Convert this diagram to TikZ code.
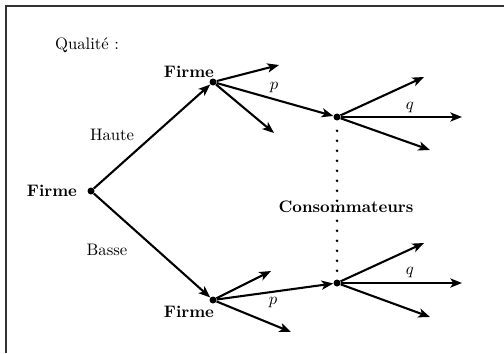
\documentclass[tikz,border=0pt]{standalone}
\usetikzlibrary{arrows.meta}
\begin{document}
\begin{tikzpicture}[x=0.6pt,y=-0.6pt,
  edge/.style={line width=1.25pt,-{Stealth[length=7pt,width=5.5pt,inset=1.8pt]}},
  pt/.style={circle,fill=black,inner sep=0pt,minimum size=4.2pt},
  lbl/.style={font=\bfseries},
  frame/.style={draw=black!80,line width=1.2pt}]
\useasboundingbox (0,0) rectangle (504,353);
\draw[frame] (5.5,353) -- (5.5,6.5) -- (504,6.5);
% nodes
\node[pt] (r) at (91,191) {};
\node[pt] (fh) at (213,82) {};
\node[pt] (fb) at (213,300) {};
\node[pt] (ch) at (337,117) {};
\node[pt] (cb) at (337,283) {};
\coordinate (fh1) at (279,65);
\coordinate (fh3) at (274,133);
\coordinate (fb1) at (271,271);
\coordinate (fb3) at (291,332);
\coordinate (ch1) at (424,77);
\coordinate (ch2) at (462,117);
\coordinate (ch3) at (430,150);
\coordinate (cb1) at (424,243);
\coordinate (cb2) at (462,283);
\coordinate (cb3) at (430,317);
% labels
\node (qual) at (87,45) {Qualit\'e :};
\node[lbl] (rl) at (52,191) {Firme};
\node[lbl] (fhl) at (189,72) {Firme};
\node[lbl] (fbl) at (189,312) {Firme};
\node (haute) at (112,135) {Haute};
\node (basse) at (107,250) {Basse};
\node (p1) at (274,88) {$p$};
\node (p2) at (273,303) {$p$};
\node (q1) at (410,108) {$q$};
\node (q2) at (410,273) {$q$};
% edges
\draw[edge] (r) -- (fh);
\draw[edge] (r) -- (fb);
\draw[edge] (fh) -- (fh1);
\draw[edge] (fh) -- (ch);
\draw[edge] (fh) -- (fh3);
\draw[edge] (fb) -- (fb1);
\draw[edge] (fb) -- (cb);
\draw[edge] (fb) -- (fb3);
\draw[edge] (ch) -- (ch1);
\draw[edge] (ch) -- (ch2);
\draw[edge] (ch) -- (ch3);
\draw[edge] (cb) -- (cb1);
\draw[edge] (cb) -- (cb2);
\draw[edge] (cb) -- (cb3);
\draw[line width=1.7pt,line cap=round,dash pattern=on 0pt off 6pt,shorten <=6pt] (ch) -- (cb);
\node[lbl] (cons) at (346,207) {Consommateurs};
\end{tikzpicture}
\end{document}
